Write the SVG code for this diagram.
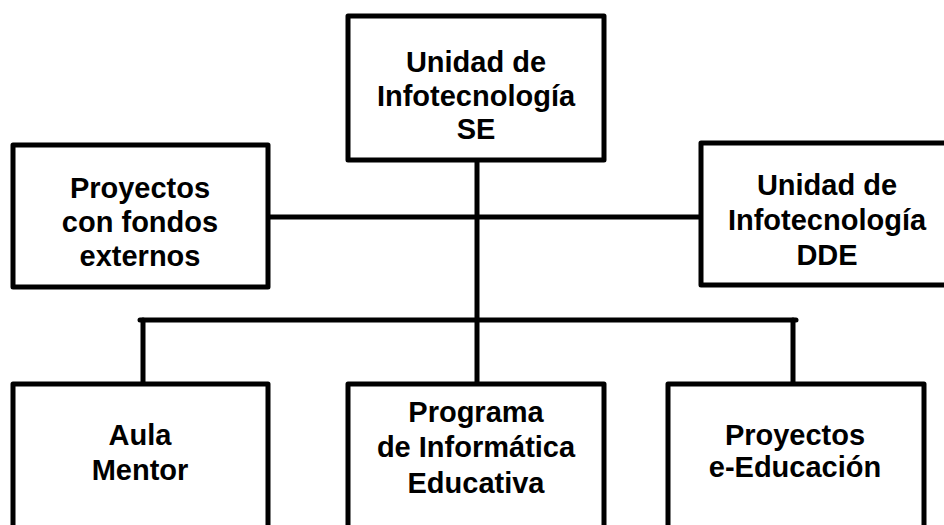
<svg xmlns="http://www.w3.org/2000/svg" width="944" height="525" viewBox="0 0 944 525">
<style>
.box{fill:#fff;stroke:#000;stroke-width:5;stroke-linejoin:round}
.ln{fill:none;stroke:#000;stroke-width:5;stroke-linecap:round}
text{font-family:"Liberation Sans",Arial,sans-serif;font-weight:bold;font-size:29px;fill:#000;text-anchor:middle}
</style>
<rect width="944" height="525" fill="#fff"/>
<g id="connectors">
<line class="ln" x1="477" y1="160" x2="477" y2="384"/>
<line class="ln" x1="268" y1="217" x2="701" y2="217"/>
<line class="ln" x1="140" y1="320" x2="796" y2="320"/>
<line class="ln" x1="143" y1="320" x2="143" y2="384"/>
<line class="ln" x1="793" y1="320" x2="793" y2="384"/>
</g>
<g id="n-se">
<rect class="box" x="348" y="16" width="256" height="144"/>
<text x="476" y="72">Unidad de</text>
<text x="476" y="106">Infotecnología</text>
<text x="476" y="139">SE</text>
</g>
<g id="n-fondos">
<rect class="box" x="13" y="145" width="255" height="142"/>
<text x="140" y="198">Proyectos</text>
<text x="140" y="232">con fondos</text>
<text x="140" y="266">externos</text>
</g>
<g id="n-dde">
<rect class="box" x="701" y="143" width="252" height="142"/>
<text x="827" y="195">Unidad de</text>
<text x="827" y="230">Infotecnología</text>
<text x="827" y="265">DDE</text>
</g>
<g id="n-aula">
<rect class="box" x="13" y="384" width="255" height="160"/>
<text x="140" y="445">Aula</text>
<text x="140" y="480">Mentor</text>
</g>
<g id="n-pie">
<rect class="box" x="348" y="384" width="256" height="160"/>
<text x="476" y="422">Programa</text>
<text x="476" y="457">de Informática</text>
<text x="476" y="493">Educativa</text>
</g>
<g id="n-eedu">
<rect class="box" x="668" y="384" width="256" height="160"/>
<text x="795" y="445">Proyectos</text>
<text x="795" y="477">e-Educación</text>
</g>
</svg>
